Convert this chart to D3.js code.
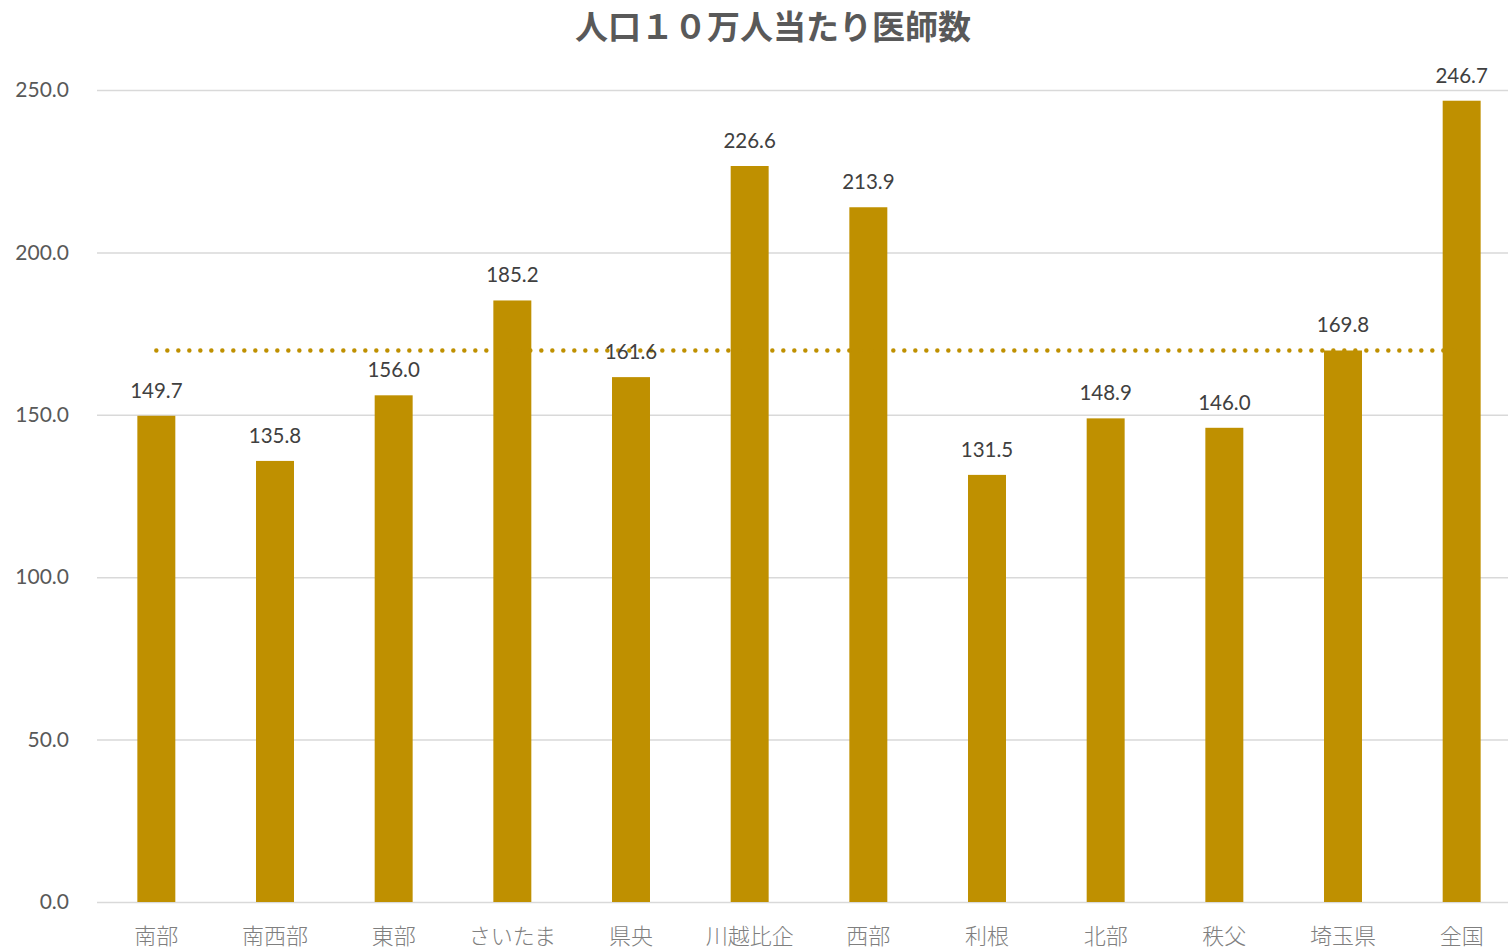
<!DOCTYPE html>
<html><head><meta charset="utf-8">
<script src="https://cdn.jsdelivr.net/npm/d3@7"></script>
<style>body{margin:0;background:#fff}svg{display:block}</style>
</head><body>
<svg id="c" width="1508" height="951"></svg>
<script>
const title = "人口１０万人当たり医師数";
const categories = ["南部","南西部","東部","さいたま","県央","川越比企","西部","利根","北部","秩父","埼玉県","全国"];
const values = [149.7,135.8,156.0,185.2,161.6,226.6,213.9,131.5,148.9,146.0,169.8,246.7];
const refValue = 169.8;
const yTicks = [0,50,100,150,200,250];

(function(){
const svg = d3.select("#c");
const mLeft = 97, mRight = 1521, mTop = 90, mBottom = 902;
const x = d3.scaleBand().domain(categories).range([mLeft, mRight]).paddingInner(0.68).paddingOuter(0.34);
const y = d3.scaleLinear().domain([0,250]).range([mBottom, mTop]);
const numFont = "Lato, 'Open Sans', sans-serif";
const jpFont = "'Noto Sans CJK JP', sans-serif";

svg.append("text").attr("x", 773).attr("y", 39).attr("text-anchor","middle")
  .attr("font-family", jpFont).attr("font-weight","bold").attr("font-size", 33)
  .attr("fill","#595959").text(title);

const yAxis = d3.axisLeft(y).tickValues(yTicks).tickFormat(d3.format(".1f")).tickSize(0).tickPadding(28);
const gy = svg.append("g").attr("transform",`translate(${mLeft},0)`).call(yAxis);
gy.select(".domain").remove();
gy.selectAll("text").attr("font-family", numFont).attr("font-size", 21).attr("fill","#595959");

svg.append("g").selectAll("line").data(yTicks).join("line")
  .attr("x1", mLeft).attr("x2", 1508).attr("y1", d=>y(d)+0.5).attr("y2", d=>y(d)+0.5)
  .attr("stroke", "#d9d9d9").attr("stroke-width", 1.5);

svg.append("g").selectAll("rect").data(values).join("rect")
  .attr("x", (d,i)=>x(categories[i])).attr("width", x.bandwidth())
  .attr("y", d=>y(d)).attr("height", d=>mBottom - y(d)).attr("fill", "#BF9000");

const lineData = categories.map(c=>[x(c)+x.bandwidth()/2, y(refValue)]);
svg.append("path").attr("d", d3.line()(lineData)).attr("fill","none")
  .attr("stroke","#BF9000").attr("stroke-width",4.5).attr("stroke-linecap","round")
  .attr("stroke-dasharray","0 11");

const xAxis = d3.axisBottom(x).tickSize(0).tickPadding(26);
const gx = svg.append("g").attr("transform",`translate(0,${mBottom})`).call(xAxis);
gx.select(".domain").remove();
gx.selectAll("text").attr("font-family", jpFont).attr("font-size", 22).attr("fill","#7f7f7f").attr("font-weight",300);

svg.append("g").selectAll("text").data(values).join("text")
  .attr("x",(d,i)=>x(categories[i])+x.bandwidth()/2).attr("y", d=>y(d)-18)
  .attr("text-anchor","middle").attr("font-family", numFont).attr("font-size",20.5)
  .attr("fill","#404040").text(d=>d.toFixed(1));
})();
</script>
</body></html>
